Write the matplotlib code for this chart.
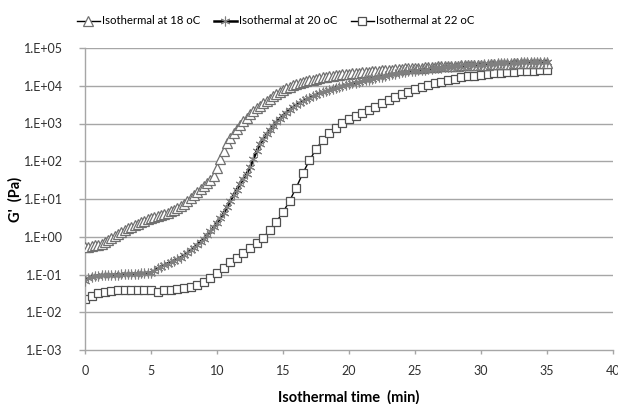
import numpy as np
import matplotlib
matplotlib.use("Agg")
import matplotlib.pyplot as plt
from matplotlib.ticker import FixedLocator, FixedFormatter

plt.rcParams['font.family'] = ['Lato', 'DejaVu Sans']

series_labels = ["Isothermal at 18 oC", "Isothermal at 20 oC", "Isothermal at 22 oC"]

# log10 of G' (Pa); 18 and 20 oC every 0.25 min, 22 oC every 0.5 min
log_g18 = [-0.27, -0.26, -0.25, -0.23, -0.21, -0.18, -0.14, -0.09, -0.04, 0.01,
           0.07, 0.12, 0.18, 0.23, 0.27, 0.31, 0.35, 0.39, 0.42, 0.46,
           0.49, 0.52, 0.55, 0.58, 0.61, 0.64, 0.68, 0.72, 0.77, 0.82,
           0.88, 0.95, 1.02, 1.10, 1.18, 1.26, 1.34, 1.42, 1.50, 1.62,
           1.82, 2.05, 2.28, 2.48, 2.62, 2.75, 2.86, 2.96, 3.06, 3.15,
           3.24, 3.32, 3.40, 3.47, 3.54, 3.60, 3.66, 3.72, 3.78, 3.84,
           3.89, 3.94, 3.98, 4.02, 4.05, 4.08, 4.10, 4.12, 4.14, 4.16,
           4.18, 4.20, 4.22, 4.24, 4.25, 4.27, 4.28, 4.29, 4.30, 4.31,
           4.32, 4.33, 4.34, 4.35, 4.36, 4.37, 4.37, 4.38, 4.39, 4.40,
           4.41, 4.42, 4.42, 4.43, 4.44, 4.45, 4.45, 4.46, 4.46, 4.47,
           4.47, 4.48, 4.48, 4.49, 4.49, 4.50, 4.50, 4.51, 4.51, 4.52,
           4.52, 4.52, 4.53, 4.53, 4.54, 4.54, 4.54, 4.55, 4.55, 4.55,
           4.56, 4.56, 4.56, 4.57, 4.57, 4.57, 4.58, 4.58, 4.58, 4.58,
           4.59, 4.59, 4.59, 4.59, 4.60, 4.60, 4.60, 4.60, 4.61, 4.61,
           4.61]

log_g20 = [-1.18, -1.10, -1.06, -1.04, -1.03, -1.02, -1.02, -1.01, -1.01, -1.00,
           -1.00, -0.99, -0.99, -0.99, -0.98, -0.98, -0.98, -0.97, -0.97, -0.96,
           -0.95, -0.90, -0.84, -0.79, -0.75, -0.71, -0.67, -0.63, -0.59, -0.55,
           -0.49, -0.43, -0.36, -0.29, -0.21, -0.13, -0.05, 0.04, 0.14, 0.25,
           0.37, 0.49, 0.62, 0.78, 0.95, 1.10, 1.25, 1.40, 1.54, 1.67,
           1.84, 2.05, 2.27, 2.45, 2.59, 2.72, 2.83, 2.94, 3.04, 3.13,
           3.21, 3.29, 3.36, 3.43, 3.49, 3.54, 3.59, 3.64, 3.68, 3.72,
           3.76, 3.80, 3.83, 3.86, 3.89, 3.92, 3.95, 3.97, 4.00, 4.02,
           4.04, 4.06, 4.08, 4.10, 4.12, 4.14, 4.16, 4.18, 4.20, 4.22,
           4.24, 4.26, 4.28, 4.30, 4.32, 4.34, 4.36, 4.37, 4.38, 4.39,
           4.40, 4.41, 4.42, 4.43, 4.44, 4.45, 4.46, 4.47, 4.48, 4.49,
           4.50, 4.50, 4.51, 4.52, 4.52, 4.53, 4.54, 4.54, 4.55, 4.56,
           4.56, 4.57, 4.57, 4.58, 4.58, 4.59, 4.59, 4.60, 4.60, 4.60,
           4.61, 4.61, 4.62, 4.62, 4.62, 4.63, 4.63, 4.63, 4.64, 4.64,
           4.64]

log_g22 = [-1.64, -1.58, -1.50, -1.46, -1.43, -1.42, -1.42, -1.41, -1.42, -1.41,
           -1.40, -1.47, -1.42, -1.41, -1.39, -1.37, -1.33, -1.28, -1.20, -1.08,
           -0.95, -0.82, -0.68, -0.55, -0.44, -0.30, -0.17, -0.02, 0.17, 0.40,
           0.65, 0.95, 1.30, 1.68, 2.02, 2.32, 2.56, 2.75, 2.89, 3.01,
           3.11, 3.20, 3.29, 3.37, 3.45, 3.53, 3.61, 3.69, 3.77, 3.84,
           3.91, 3.96, 4.02, 4.07, 4.11, 4.15, 4.19, 4.22, 4.25, 4.27,
           4.29, 4.31, 4.33, 4.34, 4.36, 4.37, 4.38, 4.39, 4.40, 4.41,
           4.42]

t18 = np.linspace(0, 35, len(log_g18))
t20 = np.linspace(0, 35, len(log_g20))
t22 = np.linspace(0, 35, len(log_g22))

x_ticks = [0, 5, 10, 15, 20, 25, 30, 35, 40]
y_tick_vals = [1e-3, 1e-2, 1e-1, 1e0, 1e1, 1e2, 1e3, 1e4, 1e5]
y_tick_labels = ["1.E-03", "1.E-02", "1.E-01", "1.E+00", "1.E+01", "1.E+02", "1.E+03", "1.E+04", "1.E+05"]

fig = plt.figure(figsize=(6.18, 4.04), dpi=100)
ax = fig.add_axes([85/618, 1-350/404, 528/618, 302/404])

grid_c = "#a6a6a6"
ax.set_yscale("log")
ax.set_xlim(0, 40)
ax.set_ylim(1e-3, 1e5)
for v in y_tick_vals[1:]:
    ax.axhline(v, color=grid_c, lw=1.0, zorder=0)

h18, = ax.plot(t18, 10 ** np.array(log_g18), color="black", lw=1.0,
               marker="^", ms=6.5, mfc="white", mec="#707070", mew=0.9,
               label=series_labels[0], zorder=3)
h20, = ax.plot(t20, 10 ** np.array(log_g20), color="black", lw=1.8,
               marker=(6, 2, 0), ms=7, mec="#808080", mew=0.8,
               label=series_labels[1], zorder=4)
h22, = ax.plot(t22, 10 ** np.array(log_g22), color="black", lw=1.0,
               marker="s", ms=5.5, mfc="white", mec="#505050", mew=0.9,
               label=series_labels[2], zorder=2)

ax.xaxis.set_major_locator(FixedLocator(x_ticks))
ax.yaxis.set_major_locator(FixedLocator(y_tick_vals))
ax.yaxis.set_major_formatter(FixedFormatter(y_tick_labels))
ax.yaxis.set_minor_locator(FixedLocator([]))
ax.tick_params(axis="y", direction="out", length=4, width=1, color=grid_c,
               labelsize=9, labelcolor="#303030", pad=12)
ax.tick_params(axis="x", direction="out", length=3, width=1, color=grid_c,
               labelsize=9, labelcolor="#303030", pad=8)

for s in ["top", "right"]:
    ax.spines[s].set_visible(False)
for s in ["left", "bottom"]:
    ax.spines[s].set_color(grid_c)
    ax.spines[s].set_linewidth(1.0)

ax.set_xlabel("Isothermal time  (min)", fontsize=10.5, fontweight="bold", labelpad=9)
ax.set_ylabel("G'  (Pa)", fontsize=10.5, fontweight="bold", labelpad=0.5)

fig.legend(handles=[h18, h20, h22], loc="center left",
           bbox_to_anchor=(77/618, 1-21/404), ncol=3, frameon=False,
           fontsize=8.2, handlelength=2.0, handletextpad=0.2, columnspacing=1.2,
           borderpad=0, borderaxespad=0)

fig.savefig("out.png", dpi=100)
